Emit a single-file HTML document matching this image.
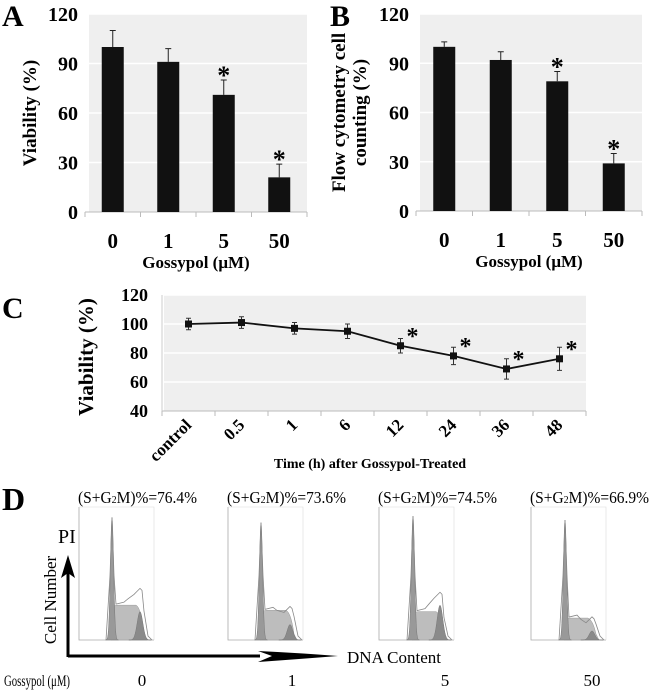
<!DOCTYPE html>
<html><head><meta charset="utf-8"><style>
html,body{margin:0;padding:0;background:#fff;width:650px;height:690px;overflow:hidden}
svg{display:block}
text{font-family:"Liberation Serif",serif}
.b{font-weight:bold}
</style></head><body>
<svg id="fig" width="650" height="690" viewBox="0 0 650 690" xmlns="http://www.w3.org/2000/svg"></svg>
<script>
// Panel A data
const catsA = ["0","1","5","50"];
const valsA = [100,91,71,21];
const errA = [10,8,9,8];
const starA = [false,false,true,true];
// Panel B data
const catsB = ["0","1","5","50"];
const valsB = [100,92,79,29];
const errB = [3,5,6,6];
const starB = [false,false,true,true];
const ticksAB = [0,30,60,90,120];
// Panel C data
const catsC = ["control","0.5","1","6","12","24","36","48"];
const valsC = [100,101,97,95,85,78,69,76];
const errC = [4,4,4,5,5,6,7,8];
const starC = [false,false,false,false,true,true,true,true];
const ticksC = [40,60,80,100,120];
// Panel D data (fractions of histogram height)
const dPct = ["76.4","73.6","74.5","66.9"];
const dDoses = ["0","1","5","50"];
const g1Peak = [0.95,0.91,0.96,0.93];
const sLevel = [0.27,0.23,0.22,0.17];
const g2Peak = [0.22,0.12,0.27,0.07];
const outlineMax = [0.40,0.26,0.37,0.18];

const NS="http://www.w3.org/2000/svg";
const svg=document.getElementById('fig');
function mk(tag,attrs,parent,txt){const e=document.createElementNS(NS,tag);for(const k in attrs)e.setAttribute(k,attrs[k]);if(txt!==undefined)e.textContent=txt;(parent||svg).appendChild(e);return e;}

function barPanel(opt){
  const g=mk('g',{});
  
  
  const {x0,x1,y0,y1,max}=opt;
  const ys=v=>y0-(v/max)*(y0-y1);
  const band=(x1-x0)/opt.cats.length;
  const xs=i=>x0+(i+0.5)*band;
  const bg=mk('rect',{x:x0+4,y:y1,width:x1-x0-4,height:y0-y1,fill:'#efefef'},g);
  
  
  ticksAB.forEach(t=>{
    if(t>0){const l=mk('line',{x1:x0+4,x2:x1,y1:ys(t),y2:ys(t),stroke:'#fff','stroke-width':1.5},g);
    }
    const tl=mk('text',{x:x0-7,y:ys(t)+7,'text-anchor':'end','font-size':20,class:'b'},g,String(t));
    
  });
  mk('line',{x1:x0,x2:x1,y1:y0,y2:y0,stroke:'#bbb','stroke-width':1},g);
  for(let i=0;i<=opt.cats.length;i++) mk('line',{x1:x0+i*band,x2:x0+i*band,y1:y0,y2:y0+5,stroke:'#bbb'},g);
  opt.cats.forEach((c,i)=>{
    const v=opt.vals[i],e=opt.errs[i],cx=xs(i);
    const r=mk('rect',{x:cx-11,y:ys(v),width:22,height:y0-ys(v),fill:'#111'},g);
    
    const eb=mk('path',{d:`M${cx} ${ys(v)}V${ys(v+e)}M${cx-3} ${ys(v+e)}H${cx+3}`,stroke:'#222','stroke-width':1,fill:'none'},g);
    
    if(opt.stars[i]){const s=mk('text',{x:cx,y:ys(v+e)+4,'text-anchor':'middle','font-size':26,class:'b'},g,'*');
      }
    const xl=mk('text',{x:cx,y:y0+36,'text-anchor':'middle','font-size':21,class:'b'},g,c);
    
  });
  const xt=mk('text',{x:(x0+x1)/2,y:y0+56,'text-anchor':'middle','font-size':17,class:'b'},g,'Gossypol (μM)');
  
  const pl=mk('text',{x:opt.lx,y:26,'font-size':30,class:'b'},g,opt.letter);
  
  opt.ytitle.forEach((t,k)=>{
    const yt=mk('text',{x:0,y:0,'text-anchor':'middle','font-size':19,class:'b',transform:`translate(${opt.ytx[k]},${(y0+y1)/2}) rotate(-90)`},g,t);
    
  });
}
barPanel({name:'panel-a',letter:'A',lx:2,x0:85,x1:307,y0:212,y1:14,max:120,cats:catsA,vals:valsA,errs:errA,stars:starA,ytitle:['Viability (%)'],ytx:[36]});
barPanel({name:'panel-b',letter:'B',lx:330,x0:416,x1:642,y0:211,y1:14,max:120,cats:catsB,vals:valsB,errs:errB,stars:starB,ytitle:['Flow cytometry cell','counting (%)'],ytx:[345,366]});

// Panel C
(function(){
  const g=mk('g',{});
  
  const x0=162,x1=586,y0=411,y1=295,mn=40,mx=120;
  const ys=v=>y0-(v-mn)/(mx-mn)*(y0-y1);
  const band=(x1-x0)/catsC.length;
  const xs=i=>x0+(i+0.5)*band;
  mk('rect',{x:x0+2,y:y1,width:x1-x0-2,height:y0-y1,fill:'#efefef'},g);
  ticksC.forEach(t=>{
    if(t>mn){const l=mk('line',{x1:x0+2,x2:x1,y1:ys(t),y2:ys(t),stroke:'#fff','stroke-width':1.5},g);
      }
    const tl=mk('text',{x:x0-14,y:ys(t)+6,'text-anchor':'end','font-size':18,class:'b'},g,String(t));
    
  });
  mk('line',{x1:x0,x2:x1,y1:y0,y2:y0,stroke:'#bbb'},g);
  mk('line',{x1:x0,x2:x0,y1:y1,y2:y0,stroke:'#ccc'},g);
  for(let i=0;i<=catsC.length;i++) mk('line',{x1:x0+i*band,x2:x0+i*band,y1:y0,y2:y0+5,stroke:'#bbb'},g);
  const line=mk('polyline',{points:valsC.map((v,i)=>xs(i)+','+ys(v)).join(' '),fill:'none',stroke:'#111','stroke-width':1.8},g);
  
  catsC.forEach((c,i)=>{
    const cx=xs(i),v=valsC[i],e=errC[i];
    const eb=mk('path',{d:`M${cx} ${ys(v-e)}V${ys(v+e)}M${cx-2.5} ${ys(v+e)}H${cx+2.5}M${cx-2.5} ${ys(v-e)}H${cx+2.5}`,stroke:'#333',fill:'none'},g);
    
    const p=mk('rect',{x:cx-3.5,y:ys(v)-3.5,width:7,height:7,fill:'#111'},g);
    
    if(starC[i]){const s=mk('text',{x:cx+12,y:ys(v)-2,'text-anchor':'middle','font-size':24,class:'b'},g,'*');
      }
    const xl=mk('text',{x:0,y:0,'text-anchor':'end','font-size':17,class:'b',transform:`translate(${cx+4},${y0+15}) rotate(-45)`},g,c);
    
  });
  const xt=mk('text',{x:370,y:468,'text-anchor':'middle','font-size':14,class:'b'},g,'Time (h) after Gossypol-Treated');
  
  const yt=mk('text',{x:0,y:0,'text-anchor':'middle','font-size':21,class:'b',transform:`translate(93,357) rotate(-90)`},g,'Viability (%)');
  
  const pl=mk('text',{x:2,y:318,'font-size':30,class:'b'},g,'C');
  
})();

// Panel D
(function(){
  const g=mk('g',{});
  
  const pl=mk('text',{x:2,y:510,'font-size':32,class:'b'},g,'D');
  
  const lefts=[79,228,379,531],W=75,top=507,bot=640,H=bot-top-4;
  const g1x=[33,33,34,34],g2x=[61,62,61,61];
  const doseX=[142,292,445,592];
  dPct.forEach((pct,k)=>{
    const L=lefts[k];
    const hg=mk('g',{},g);
    
    const t=mk('text',{x:L-1,y:503,'font-size':17,textLength:119,lengthAdjust:'spacingAndGlyphs'},g);
    
    mk('tspan',{},t,'(S+G');mk('tspan',{'font-size':11},t,'2');mk('tspan',{},t,'M)%='+pct+'%');
    mk('path',{d:`M${L} ${top}V${bot}H${L+W}`,fill:'none',stroke:'#aaa','stroke-width':0.8},hg);
    mk('path',{d:`M${L} ${top}H${L+W}V${bot}`,fill:'none',stroke:'#ddd','stroke-width':0.6},hg);
    const gx=L+g1x[k],hx=L+g2x[k];
    const sy=bot-sLevel[k]*H;
    mk('path',{d:`M${gx-1} ${bot}L${gx+1} ${sy+2}Q${gx+2} ${sy} ${gx+6} ${sy}L${hx-4} ${sy}Q${hx+1} ${sy+2} ${hx+4} ${bot-6}L${hx+7} ${bot}Z`,fill:'#bdbdbd',stroke:'#999','stroke-width':0.5},hg);
    function peak(cx,h,sig,fill){let d=`M${cx-4*sig} ${bot}`;for(let i=-4;i<=4;i+=0.25){d+=`L${cx+i*sig} ${bot-h*H*Math.exp(-i*i/2)}`;}d+='Z';return mk('path',{d,fill,stroke:'#777','stroke-width':0.5},hg);}
    peak(hx,g2Peak[k],2.8,'#8a8a8a');
    peak(gx,g1Peak[k],1.6,'#999');
    const oy=bot-outlineMax[k]*H;
    mk('path',{d:`M${gx-6} ${bot}L${gx-2} ${bot-0.5*H}L${gx} ${bot-g1Peak[k]*H}L${gx+2} ${bot-0.5*H}L${gx+4} ${sy-1}L${gx+12} ${sy-3}L${gx+16} ${(sy+oy)/2+2}L${hx-6} ${oy+6}L${hx-3} ${oy+3}L${hx} ${oy}L${hx+2} ${oy+2}L${hx+4} ${sy+6}L${hx+8} ${bot-4}L${hx+12} ${bot}`,fill:'none',stroke:'#888','stroke-width':0.8},hg);
    const dl=mk('text',{x:doseX[k],y:686,'text-anchor':'middle','font-size':17},g,dDoses[k]);
    
  });
  const ax=mk('path',{d:'M68 657V572M68 656H260',fill:'none',stroke:'#000','stroke-width':3},g);
  
  mk('path',{d:'M258 651Q300 653 338 656Q300 659 258 662L272 656Z',fill:'#000'},g);
  mk('path',{d:'M61 578L68 555L75 578L68 573Z',fill:'#000'},g);
  const pi=mk('text',{x:58,y:543,'font-size':20},g,'PI');
  
  const cn=mk('text',{x:0,y:0,'text-anchor':'middle','font-size':17,transform:'translate(56,600) rotate(-90)'},g,'Cell Number');
  
  const dc=mk('text',{x:347,y:663,'font-size':17},g,'DNA Content');
  
  const gl=mk('text',{x:4,y:686,'font-size':16,textLength:66,lengthAdjust:'spacingAndGlyphs'},g,'Gossypol (μM)');
  
})();
</script>
</body></html>
